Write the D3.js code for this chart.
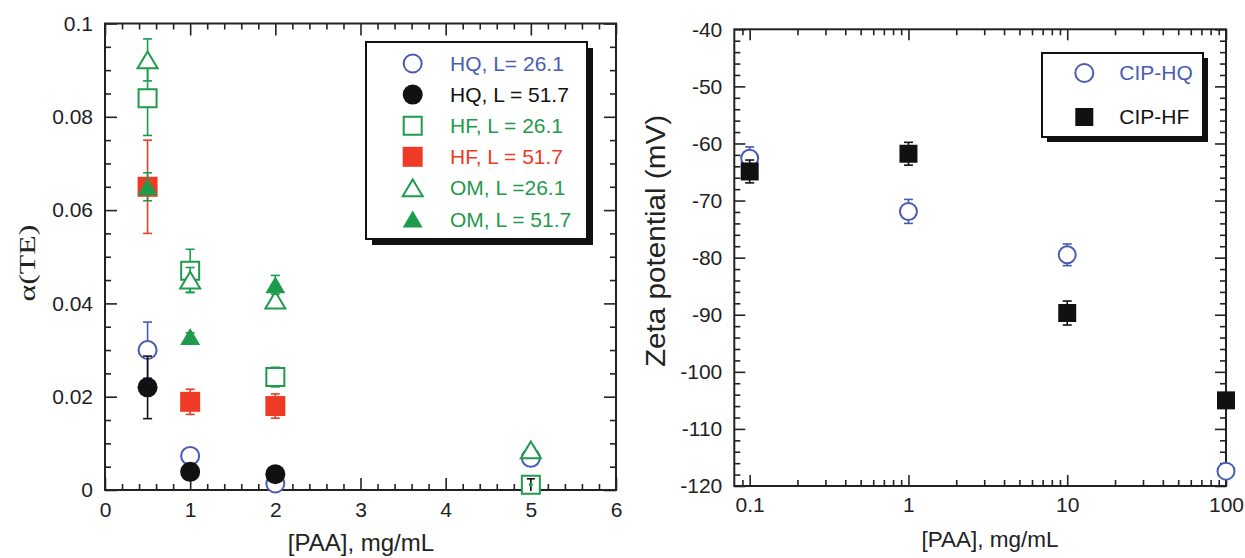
<!DOCTYPE html>
<html><head><meta charset="utf-8">
<script src="https://cdn.jsdelivr.net/npm/d3@7"></script>
<style>body{margin:0;background:#fff}svg{display:block}</style>
</head><body>
<svg id="chart" width="1245" height="558"></svg>
<script>
// ---------- LEFT PANEL DATA: alpha(TE) vs [PAA] ----------
const paaLevels = [0.5, 1, 2, 5];
const hq26Vals = [0.030, 0.0073, 0.0014, 0.0069];
const hq26Errs = [0.006, 0.001, 0.0005, 0.0008];
const hq52Vals = [0.022, 0.0039, 0.0034, null];
const hq52Errs = [0.0067, 0.0008, 0.0005, null];
const hf26Vals = [0.084, 0.047, 0.0242, 0.0011];
const hf26Errs = [0.008, 0.0046, 0.0021, 0.0006];
const hf52Vals = [0.065, 0.0189, 0.018, null];
const hf52Errs = [0.010, 0.0027, 0.0026, null];
const om26Vals = [0.0922, 0.045, 0.0407, 0.0086];
const om26Errs = [0.0045, 0.0027, 0.0017, 0.0006];
const om52Vals = [0.065, 0.0329, 0.044, null];
const om52Errs = [0.003, 0.0008, 0.002, null];
// small black error cross visible inside the square at 5 mg/mL
const blackCrossX = [5];
const blackCrossY = [0.0011];
const blackCrossErr = [0.0013];

const leftXTicks = [0, 1, 2, 3, 4, 5, 6];
const leftYTicks = [0, 0.02, 0.04, 0.06, 0.08, 0.1];
const leftYLabels = ["0", "0.02", "0.04", "0.06", "0.08", "0.1"];
const leftLegendLabels = ["HQ, L= 26.1", "HQ, L = 51.7", "HF, L = 26.1", "HF, L = 51.7", "OM, L =26.1", "OM, L = 51.7"];

// ---------- RIGHT PANEL DATA: zeta potential vs [PAA] ----------
const zetaPAA = [0.1, 1, 10, 100];
const cipHQVals = [-62.6, -71.9, -79.5, -117.4];
const cipHQErrs = [2.0, 2.1, 1.9, 1.0];
const cipHFVals = [-64.9, -61.8, -89.7, -105.0];
const cipHFErrs = [2.0, 2.0, 2.1, 1.2];
const rightXTicks = [0.1, 1, 10, 100];
const rightXLabels = ["0.1", "1", "10", "100"];
const rightYTicks = [-120, -110, -100, -90, -80, -70, -60, -50, -40];
const rightLegendLabels = ["CIP-HQ", "CIP-HF"];

// ---------- STYLE ----------
const BLUE = "#4a5bb5", GREEN = "#1f9b4c", RED = "#ef3b25", BLACK = "#111";
const FONT = "'Liberation Sans', Arial, Helvetica, sans-serif";
const svg = d3.select("#chart");

const xL = d3.scaleLinear([0, 6], [105, 616]);
const yL = d3.scaleLinear([0, 0.1], [490, 23.5]);
const xR = d3.scaleLog([0.08, 100], [734.3, 1226]);
const yR = d3.scaleLinear([-120, -40], [486, 29.3]);

function styleAxis(g, size) {
  g.select(".domain").remove();
  g.attr("font-family", FONT).attr("font-size", size);
  g.selectAll("line").attr("stroke", "#222").attr("stroke-width", 1.6);
  g.selectAll("text").attr("fill", "#222");
}

function drawFrame(x, y, o) {
  const [x0, x1] = x.range(), [y0, y1] = y.range();
  const root = svg.append("g");
  // minor ticks
  root.append("g").attr("transform", `translate(0,${y0})`)
    .call(d3.axisBottom(x).tickValues(o.minorX).tickSize(-o.minorLen).tickFormat("")).call(g => styleAxis(g, 21));
  root.append("g").attr("transform", `translate(0,${y1})`)
    .call(d3.axisTop(x).tickValues(o.minorX).tickSize(-o.minorLen).tickFormat("")).call(g => styleAxis(g, 21));
  root.append("g").attr("transform", `translate(${x0},0)`)
    .call(d3.axisLeft(y).tickValues(o.minorY).tickSize(-o.minorLen).tickFormat("")).call(g => styleAxis(g, 21));
  root.append("g").attr("transform", `translate(${x1},0)`)
    .call(d3.axisRight(y).tickValues(o.minorY).tickSize(-o.minorLen).tickFormat("")).call(g => styleAxis(g, 21));
  // major ticks
  root.append("g").attr("transform", `translate(0,${y0})`)
    .call(d3.axisBottom(x).tickValues(o.majorX).tickSize(-o.majorLen).tickPadding(o.padX).tickFormat(o.fmtX)).call(g => styleAxis(g, 21));
  root.append("g").attr("transform", `translate(0,${y1})`)
    .call(d3.axisTop(x).tickValues(o.majorX).tickSize(-o.majorLen).tickFormat("")).call(g => styleAxis(g, 21));
  root.append("g").attr("transform", `translate(${x0},0)`)
    .call(d3.axisLeft(y).tickValues(o.majorY).tickSize(-o.majorLen).tickPadding(o.padY).tickFormat(o.fmtY)).call(g => styleAxis(g, 21));
  root.append("g").attr("transform", `translate(${x1},0)`)
    .call(d3.axisRight(y).tickValues(o.majorY).tickSize(-o.majorLen).tickFormat("")).call(g => styleAxis(g, 21));
  root.append("rect").attr("x", x0).attr("y", y1).attr("width", x1 - x0).attr("height", y0 - y1)
    .attr("fill", "none").attr("stroke", "#222").attr("stroke-width", 2);
}

function markerPath(shape, s) {
  const h = s / 2;
  if (shape === "square") return `M${-h},${-h}H${h}V${h}H${-h}Z`;
  if (shape === "triangle") { const th = s * 0.42; return `M0,${-th}L${h},${th}L${-h},${th}Z`; }
  return d3.arc()({innerRadius: 0, outerRadius: h, startAngle: 0, endAngle: 2 * Math.PI});
}

function drawMarker(g, cx, cy, shape, filled, color, size) {
  g.append("path").attr("d", markerPath(shape, size))
    .attr("transform", `translate(${cx},${cy})`)
    .attr("fill", filled ? color : "#fff")
    .attr("stroke", color).attr("stroke-width", filled ? 0 : 2);
}

function drawSeries(x, y, xs, vals, errs, shape, filled, color, size, errColor) {
  const g = svg.append("g");
  const pts = xs.map((d, i) => ({x: d, v: vals[i], e: errs[i]})).filter(p => p.v !== null);
  pts.forEach(p => {
    if (p.e) {
      const cx = x(p.x), yt = y(p.v + p.e), yb = y(p.v - p.e), c = errColor || color;
      g.append("line").attr("x1", cx).attr("x2", cx).attr("y1", yt).attr("y2", yb).attr("stroke", c).attr("stroke-width", 1.6);
      [yt, yb].forEach(yy => g.append("line").attr("x1", cx - 4.5).attr("x2", cx + 4.5).attr("y1", yy).attr("y2", yy).attr("stroke", c).attr("stroke-width", 1.6));
    }
  });
  pts.forEach(p => drawMarker(g, x(p.x), y(p.v), shape, filled, color, size));
}

// ---------- LEFT PANEL ----------
drawFrame(xL, yL, {
  majorX: leftXTicks, minorX: d3.range(0, 6.001, 0.2).filter(v => Math.abs(v - Math.round(v)) > 1e-6),
  majorY: leftYTicks, minorY: d3.range(0, 0.1001, 0.005).filter(v => Math.abs(v / 0.02 - Math.round(v / 0.02)) > 1e-6),
  majorLen: 12, minorLen: 6, padX: 12, padY: 12,
  fmtX: d => String(d), fmtY: (d, i) => leftYLabels[i]
});

const leftSeries = [
  {vals: hq26Vals, errs: hq26Errs, shape: "circle", filled: false, color: BLUE, size: 18},
  {vals: hq52Vals, errs: hq52Errs, shape: "circle", filled: true, color: BLACK, size: 20},
  {vals: hf26Vals, errs: hf26Errs, shape: "square", filled: false, color: GREEN, size: 18},
  {vals: hf52Vals, errs: hf52Errs, shape: "square", filled: true, color: RED, size: 20},
  {vals: om26Vals, errs: om26Errs, shape: "triangle", filled: false, color: GREEN, size: 20},
  {vals: om52Vals, errs: om52Errs, shape: "triangle", filled: true, color: GREEN, size: 20}
];
leftSeries.forEach(s => drawSeries(xL, yL, paaLevels, s.vals, s.errs, s.shape, s.filled, s.color, s.size));
// black error cross at 5
blackCrossX.forEach((xv, i) => {
  const cx = xL(xv), yt = yL(blackCrossY[i] + blackCrossErr[i]), yb = yL(blackCrossY[i] - blackCrossErr[i]);
  svg.append("line").attr("x1", cx).attr("x2", cx).attr("y1", yt).attr("y2", yb).attr("stroke", BLACK).attr("stroke-width", 1.6);
  svg.append("line").attr("x1", cx - 4).attr("x2", cx + 4).attr("y1", yt).attr("y2", yt).attr("stroke", BLACK).attr("stroke-width", 1.6);
  svg.append("circle").attr("cx", cx).attr("cy", yL(blackCrossY[i])).attr("r", 2).attr("fill", GREEN);
});

// left legend
{
  const lx = 366, ly = 42, lw = 221, lh = 197;
  svg.append("rect").attr("x", lx + 6).attr("y", ly + 6).attr("width", lw).attr("height", lh).attr("fill", "#111");
  svg.append("rect").attr("x", lx).attr("y", ly).attr("width", lw).attr("height", lh).attr("fill", "#fff").attr("stroke", "#111").attr("stroke-width", 2);
  const textColors = [BLUE, BLACK, GREEN, RED, GREEN, GREEN];
  leftLegendLabels.forEach((t, i) => {
    const s = leftSeries[i], by = 71 + 31.1 * i;
    drawMarker(svg, 412.7, by - 7.5, s.shape, s.filled, s.color, s.size);
    svg.append("text").attr("x", 450).attr("y", by).attr("font-family", FONT).attr("font-size", 21)
      .attr("fill", textColors[i]).text(t);
  });
}

// left axis titles
svg.append("text").attr("x", 361).attr("y", 551).attr("text-anchor", "middle")
  .attr("font-family", FONT).attr("font-size", 24).attr("fill", "#222").text("[PAA], mg/mL");
svg.append("text").attr("transform", "translate(35,263) rotate(-90)").attr("text-anchor", "middle")
  .attr("font-family", "'Liberation Serif', 'Times New Roman', serif").attr("font-size", 24)
  .attr("textLength", 77).attr("lengthAdjust", "spacingAndGlyphs").attr("fill", "#222").text("α(TE)");

// ---------- RIGHT PANEL ----------
const logMinor = [];
[0.01, 0.1, 1, 10].forEach(dec => { for (let k = 2; k <= 9; k++) { const v = dec * k; if (v > 0.081 && v < 100) logMinor.push(v); } });
drawFrame(xR, yR, {
  majorX: rightXTicks, minorX: logMinor.filter(v => ![0.1, 1, 10, 100].some(m => Math.abs(v - m) < 1e-9)),
  majorY: rightYTicks, minorY: d3.range(-120, -39, 2).filter(v => v % 10 !== 0),
  majorLen: 11, minorLen: 6, padX: 11, padY: 12,
  fmtX: (d, i) => rightXLabels[i], fmtY: d => String(d)
});
const rightSeries = [
  {vals: cipHQVals, errs: cipHQErrs, shape: "circle", filled: false, color: BLUE, size: 17},
  {vals: cipHFVals, errs: cipHFErrs, shape: "square", filled: true, color: BLACK, size: 18}
];
rightSeries.forEach(s => drawSeries(xR, yR, zetaPAA, s.vals, s.errs, s.shape, s.filled, s.color, s.size, s.filled ? BLACK : null));

// right legend
{
  const lx = 1042, ly = 53, lw = 161, lh = 84;
  svg.append("rect").attr("x", lx + 5).attr("y", ly + 5).attr("width", lw).attr("height", lh).attr("fill", "#111");
  svg.append("rect").attr("x", lx).attr("y", ly).attr("width", lw).attr("height", lh).attr("fill", "#fff").attr("stroke", "#111").attr("stroke-width", 2);
  const textColors = [BLUE, BLACK];
  rightLegendLabels.forEach((t, i) => {
    const s = rightSeries[i], by = 80 + 44 * i;
    drawMarker(svg, 1084.3, by - 7, s.shape, s.filled, s.color, 18);
    svg.append("text").attr("x", 1119.3).attr("y", by).attr("font-family", FONT).attr("font-size", 21)
      .attr("fill", textColors[i]).text(t);
  });
}

// right axis titles
svg.append("text").attr("x", 990).attr("y", 547).attr("text-anchor", "middle")
  .attr("font-family", FONT).attr("font-size", 22.5).attr("fill", "#222").text("[PAA], mg/mL");
svg.append("text").attr("transform", "translate(665,241) rotate(-90)").attr("text-anchor", "middle")
  .attr("font-family", FONT).attr("font-size", 27).attr("textLength", 252).attr("lengthAdjust", "spacingAndGlyphs")
  .attr("fill", "#222").text("Zeta potential (mV)");
</script>
</body></html>
